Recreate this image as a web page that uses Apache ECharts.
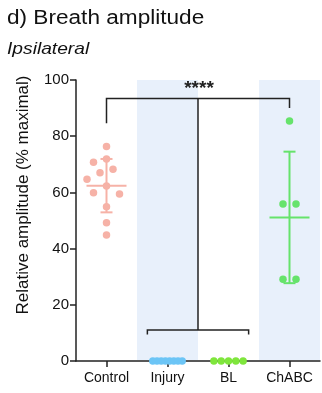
<!DOCTYPE html>
<html>
<head>
<meta charset="utf-8">
<script src="https://cdn.jsdelivr.net/npm/echarts@6.0.0/dist/echarts.min.js"></script>
<style>
  html, body { margin: 0; padding: 0; background: #fff; }
  #chart { width: 322px; height: 393px; }
</style>
</head>
<body>
<div id="chart"></div>
<script>
// values (% maximal)
var categories = ['Control', 'Injury', 'BL', 'ChABC'];
var controlVals = [76.3, 71.9, 70.7, 68.2, 67.0, 64.7, 62.3, 59.9, 59.4, 54.9, 49.2, 44.8];
var injuryVals = [0, 0, 0, 0, 0, 0, 0, 0];
var blVals = [0, 0, 0, 0, 0];
var chabcVals = [85.4, 55.9, 55.9, 29.1, 29.1];
var groupMeans = [62.4, 0, 0, 51.1];
var groupSDs = [9.5, 0, 0, 23.4];
// significance bracket levels
var topBracket = 93.4;
var lowBracket = 11;
var starsText = '****';

var colors = ['#f6b2a7', '#6cc5f6', '#7fe63c', '#66e36b'];
var fontName = '"Liberation Sans", Arial, sans-serif';

// rough pixel scale of the plot, used only for dot spreading
var pxPerY = 2.81;
var pxPerCat = 61;

// simple beeswarm: push dots sideways until they stop overlapping
function swarm(vals, step, d) {
    var order = vals.map(function (v, i) { return i; })
        .sort(function (a, b) { return vals[b] - vals[a]; });
    var placed = [];
    var out = [];
    order.forEach(function (i) {
        var y = vals[i] * pxPerY;
        for (var k = 0; k < 40; k++) {
            var x = (k % 2 ? -1 : 1) * Math.ceil(k / 2) * step;
            var ok = placed.every(function (p) {
                return Math.hypot(p[0] - x, p[1] - y) >= d;
            });
            if (ok) { placed.push([x, y]); out[i] = x; break; }
        }
    });
    // recentre rows of tied values
    var seen = {};
    vals.forEach(function (v) {
        if (seen[v]) return;
        seen[v] = true;
        var idx = [];
        vals.forEach(function (w, j) { if (w === v) idx.push(j); });
        if (idx.length < 2) return;
        var m = idx.reduce(function (s, j) { return s + out[j]; }, 0) / idx.length;
        idx.forEach(function (j) { out[j] -= m; });
    });
    return out;
}

function toPoints(vals, cat, step, d) {
    var off = swarm(vals, step, d);
    return vals.map(function (v, i) { return [cat + off[i] / pxPerCat, v]; });
}

var groups = [
    toPoints(controlVals, 0, 6.5, 12),
    toPoints(injuryVals, 1, 4.2, 4),
    toPoints(blVals, 2, 7.3, 7),
    toPoints(chabcVals, 3, 13, 7)
];

var errData = [];
groupMeans.forEach(function (m, i) {
    if (groupSDs[i] > 0) errData.push([i, m, groupSDs[i]]);
});

function renderErr(params, api) {
    var x = api.value(0), m = api.value(1), s = api.value(2);
    var c = api.coord([x, m]);
    var top = api.coord([x, m + s]);
    var bot = api.coord([x, m - s]);
    var st = { stroke: colors[x], lineWidth: 2 };
    return {
        type: 'group',
        children: [
            { type: 'line', shape: { x1: c[0], y1: top[1], x2: c[0], y2: bot[1] }, style: st },
            { type: 'line', shape: { x1: c[0] - 20, y1: c[1], x2: c[0] + 20, y2: c[1] }, style: st },
            { type: 'line', shape: { x1: c[0] - 6, y1: top[1], x2: c[0] + 6, y2: top[1] }, style: st },
            { type: 'line', shape: { x1: c[0] - 6, y1: bot[1], x2: c[0] + 6, y2: bot[1] }, style: st }
        ]
    };
}

function renderBracket(params, api) {
    var st = { stroke: '#222', lineWidth: 1.5, fill: null };
    var a = api.coord([0, 84.6]), b = api.coord([0, topBracket]);
    var c = api.coord([3, topBracket]), d = api.coord([3, 90]);
    var m1 = api.coord([1.5, topBracket]), m2 = api.coord([1.5, lowBracket]);
    var l1 = api.coord([0.67, lowBracket - 1.6]), l2 = api.coord([0.67, lowBracket]);
    var r1 = api.coord([2.33, lowBracket]), r2 = api.coord([2.33, lowBracket - 1.6]);
    return {
        type: 'group',
        children: [
            { type: 'polyline', shape: { points: [a, b, c, d] }, style: st },
            { type: 'line', shape: { x1: m1[0], y1: m1[1], x2: m2[0], y2: m2[1] }, style: st },
            { type: 'polyline', shape: { points: [l1, l2, r1, r2] }, style: st },
            {
                type: 'text', x: m1[0] + 1, y: m1[1] - 19,
                style: { text: starsText, font: 'bold 19px ' + fontName, fill: '#222', align: 'center', verticalAlign: 'top' }
            }
        ]
    };
}

var chart = echarts.init(document.getElementById('chart'));

var option = {
    animation: false,
    grid: { left: 76, right: 2, top: 80, bottom: 32 },
    xAxis: [
        {
            type: 'category',
            data: categories,
            axisLine: { lineStyle: { color: '#222', width: 1.5 } },
            axisTick: { show: true, alignWithLabel: true, length: 6, lineStyle: { color: '#222', width: 1.5 } },
            axisLabel: { color: '#111', fontSize: 14, fontFamily: fontName, margin: 10 }
        },
        { type: 'value', min: -0.5, max: 3.5, show: false }
    ],
    yAxis: {
        type: 'value',
        min: 0,
        max: 100,
        interval: 20,
        splitLine: { show: false },
        axisLine: { show: true, onZero: false, lineStyle: { color: '#222', width: 1.5 } },
        axisTick: { show: true, inside: false, length: 6, lineStyle: { color: '#222', width: 1.5 } },
        axisLabel: { color: '#111', fontSize: 15, fontFamily: fontName, margin: 7 }
    },
    graphic: [
        {
            type: 'text', x: 7, y: 8, scaleX: 1.13,
            style: { text: 'd) Breath amplitude', font: '20px ' + fontName, fill: '#111' }
        },
        {
            type: 'text', x: 7, y: 41, scaleX: 1.13,
            style: { text: 'Ipsilateral', font: 'italic 17px ' + fontName, fill: '#111' }
        },
        {
            type: 'text', x: 23, y: 195, rotation: Math.PI / 2,
            style: { text: 'Relative amplitude (% maximal)', font: '17px ' + fontName, fill: '#111', align: 'center', verticalAlign: 'middle' }
        }
    ],
    series: [
        {
            type: 'custom',
            xAxisIndex: 1,
            renderItem: renderErr,
            data: errData,
            z: 3,
            markArea: {
                silent: true,
                itemStyle: { color: '#e8f0fb' },
                data: [
                    [{ xAxis: 0.5, yAxis: 0.4 }, { xAxis: 1.5, yAxis: 100 }],
                    [{ xAxis: 2.5, yAxis: 0.4 }, { xAxis: 3.5, yAxis: 100 }]
                ]
            }
        },
        {
            type: 'custom',
            xAxisIndex: 1,
            renderItem: renderBracket,
            data: [[0, 0]],
            z: 3
        }
    ].concat(groups.map(function (pts, i) {
        return {
            type: 'scatter',
            xAxisIndex: 1,
            data: pts,
            symbolSize: 7.5,
            itemStyle: { color: colors[i], opacity: 1 },
            z: 12
        };
    }))
};

chart.setOption(option);
</script>
</body>
</html>
